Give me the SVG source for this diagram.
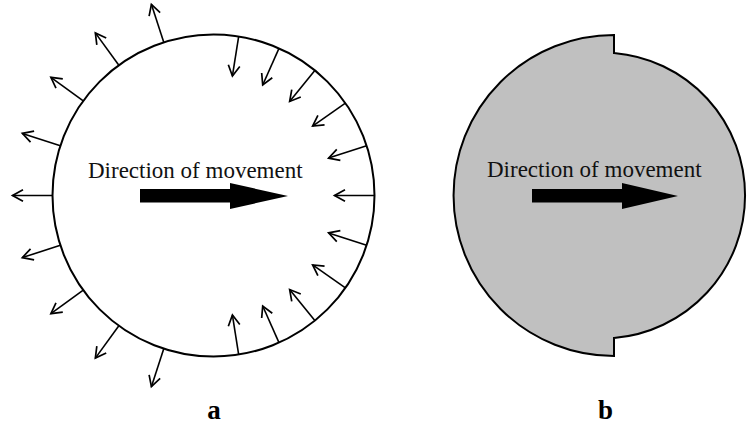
<svg xmlns="http://www.w3.org/2000/svg" width="747" height="428" viewBox="0 0 747 428">
<style>
  .txt { font-family: "Liberation Serif", "Times New Roman", serif; font-size: 23px; fill: #111; }
  .lbl { font-family: "Liberation Serif", "Times New Roman", serif; font-size: 27px; font-weight: bold; fill: #000; text-anchor: middle; }
  .ar { stroke: #000; stroke-width: 1.6; fill: none; marker-end: url(#vhead); }
  .big { fill: #000; stroke: none; }
</style>
<defs>
  <marker id="vhead" markerUnits="userSpaceOnUse" markerWidth="16" markerHeight="16" viewBox="-13 -8 15 16" refX="0" refY="0" orient="auto">
    <path d="M-10.5,-5.8 L0,0 L-10.5,5.8" fill="none" stroke="#000" stroke-width="1.7" stroke-linejoin="miter"/>
  </marker>
</defs>
<rect width="747" height="428" fill="#fff"/>

<g id="circle-a">
  <circle cx="213.5" cy="195.5" r="161" fill="#fff" stroke="#000" stroke-width="2"/>
  <text class="txt" x="88" y="178">Direction of movement</text>
  <path class="big" d="M140,189 L230,189 L230,183 L288,196 L230,209 L230,202.5 L140,202.5 Z"/>
  <text class="lbl" x="214" y="419">a</text>
</g>

<g id="shape-b">
  <path d="M614,35 A160.5,160.5 0 0 0 614,356 L614,338 A143,143 0 0 0 614,53 Z" fill="#c0c0c0" stroke="#000" stroke-width="2" stroke-linejoin="miter"/>
  <text class="txt" x="487" y="177">Direction of movement</text>
  <path class="big" d="M532,189 L622,189 L622,183 L678,196 L622,209 L622,202.5 L532,202.5 Z"/>
  <text class="lbl" x="605.5" y="419">b</text>
</g>

<g id="connectors">
  <!-- outward arrows (left half) -->
  <line class="ar" x1="163.75" y1="42.37" x2="151.39" y2="4.33"/>
  <line class="ar" x1="118.86" y1="65.25" x2="95.35" y2="32.89"/>
  <line class="ar" x1="83.25" y1="100.86" x2="50.89" y2="77.35"/>
  <line class="ar" x1="60.37" y1="145.75" x2="22.33" y2="133.39"/>
  <line class="ar" x1="52.5" y1="195.5" x2="12.5" y2="195.5"/>
  <line class="ar" x1="60.37" y1="245.25" x2="22.33" y2="257.61"/>
  <line class="ar" x1="83.25" y1="290.14" x2="50.89" y2="313.65"/>
  <line class="ar" x1="118.86" y1="325.75" x2="95.35" y2="358.11"/>
  <line class="ar" x1="163.75" y1="348.63" x2="151.39" y2="386.67"/>
  <!-- inward arrows (right half) -->
  <line class="ar" x1="238.68" y1="36.48" x2="232.42" y2="75.99"/>
  <line class="ar" x1="278.98" y1="48.43" x2="262.71" y2="84.97"/>
  <line class="ar" x1="314.82" y1="70.39" x2="289.65" y2="101.47"/>
  <line class="ar" x1="345.39" y1="103.15" x2="312.62" y2="126.09"/>
  <line class="ar" x1="366.63" y1="145.75" x2="328.58" y2="158.11"/>
  <line class="ar" x1="374.5" y1="195.5" x2="334.5" y2="195.5"/>
  <line class="ar" x1="366.63" y1="245.25" x2="328.58" y2="232.89"/>
  <line class="ar" x1="345.39" y1="287.85" x2="312.62" y2="264.91"/>
  <line class="ar" x1="314.82" y1="320.61" x2="289.65" y2="289.53"/>
  <line class="ar" x1="278.98" y1="342.57" x2="262.71" y2="306.03"/>
  <line class="ar" x1="238.68" y1="354.52" x2="232.42" y2="315.01"/>
</g>
</svg>
